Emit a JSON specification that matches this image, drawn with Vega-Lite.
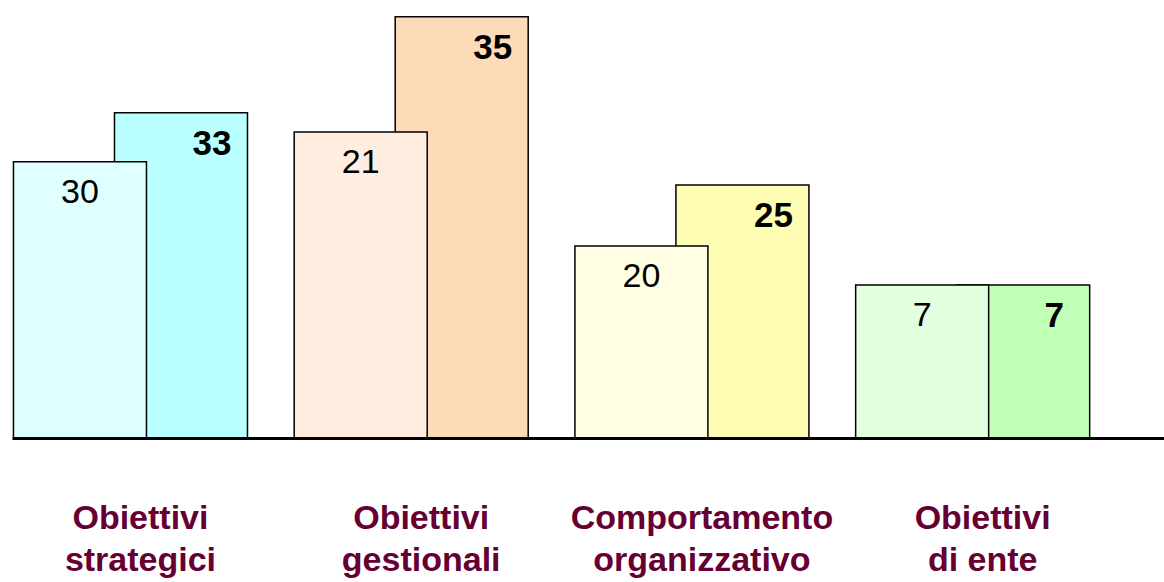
{
  "$schema": "https://vega.github.io/schema/vega-lite/v6.json",
  "width": 1152,
  "height": 438,
  "autosize": {"type": "none"},
  "padding": {"left": 12, "top": 0, "right": 0, "bottom": 144},
  "background": "white",
  "config": {"view": {"stroke": null}, "font": "Liberation Sans"},
  "data": {
    "values": [
      {"gruppo": "Obiettivi strategici", "serie": "A", "valore": 30, "altezza": 22.95},
      {"gruppo": "Obiettivi strategici", "serie": "B", "valore": 33, "altezza": 27.02},
      {"gruppo": "Obiettivi gestionali", "serie": "A", "valore": 21, "altezza": 25.44},
      {"gruppo": "Obiettivi gestionali", "serie": "B", "valore": 35, "altezza": 35.0},
      {"gruppo": "Comportamento organizzativo", "serie": "A", "valore": 20, "altezza": 15.96},
      {"gruppo": "Comportamento organizzativo", "serie": "B", "valore": 25, "altezza": 21.03},
      {"gruppo": "Obiettivi di ente", "serie": "A", "valore": 7, "altezza": 12.72},
      {"gruppo": "Obiettivi di ente", "serie": "B", "valore": 7, "altezza": 12.72}
    ]
  },
  "encoding": {
    "x": {
      "field": "gruppo",
      "type": "nominal",
      "sort": null,
      "scale": {
        "domain": ["Obiettivi strategici", "Obiettivi gestionali", "Comportamento organizzativo", "Obiettivi di ente"],
        "paddingInner": 0.2804,
        "paddingOuter": 0.192,
        "align": 0.162
      },
      "axis": {
        "title": null,
        "domainColor": "black",
        "domainWidth": 3,
        "ticks": false,
        "labelAngle": 0,
        "labelFont": "Liberation Sans",
        "labelFontSize": 34,
        "labelFontWeight": "bold",
        "labelColor": "#660033",
        "labelPadding": 63,
        "labelLineHeight": 42,
        "labelLimit": 400,
        "labelOverlap": false,
        "labelBound": false,
        "labelOffset": 10,
        "zindex": 1,
        "labelExpr": "datum.label == 'Obiettivi di ente' ? ['Obiettivi', 'di ente'] : split(datum.label, ' ')"
      }
    },
    "xOffset": {
      "field": "serie",
      "type": "nominal",
      "scale": {"domain": ["A", "B"], "paddingInner": 0, "paddingOuter": 0}
    },
    "y": {
      "field": "altezza",
      "type": "quantitative",
      "scale": {"domain": [0, 36.4], "nice": false, "zero": true},
      "axis": null
    }
  },
  "layer": [
    {
      "transform": [{"filter": "datum.serie === 'B'"}],
      "mark": {"type": "bar", "width": 133, "stroke": "black", "strokeWidth": 1.5},
      "encoding": {
        "fill": {
          "field": "gruppo",
          "type": "nominal",
          "scale": {
            "domain": ["Obiettivi strategici", "Obiettivi gestionali", "Comportamento organizzativo", "Obiettivi di ente"],
            "range": ["#B9FFFF", "#FDDAB8", "#FFFDB3", "#C0FFB6"]
          },
          "legend": null
        }
      }
    },
    {
      "transform": [{"filter": "datum.serie === 'A'"}],
      "mark": {"type": "bar", "width": 133, "stroke": "black", "strokeWidth": 1.5},
      "encoding": {
        "fill": {
          "field": "gruppo",
          "type": "nominal",
          "scale": {
            "domain": ["Obiettivi strategici", "Obiettivi gestionali", "Comportamento organizzativo", "Obiettivi di ente"],
            "range": ["#E0FFFF", "#FFEEE0", "#FFFDE2", "#E2FFE0"]
          },
          "legend": null
        }
      }
    },
    {
      "transform": [{"filter": "datum.serie === 'A'"}],
      "mark": {"type": "text", "fontSize": 34, "baseline": "top", "align": "center", "dy": 14, "color": "black", "font": "Liberation Sans"},
      "encoding": {"text": {"field": "valore", "type": "quantitative"}}
    },
    {
      "transform": [{"filter": "datum.serie === 'B'"}],
      "mark": {"type": "text", "fontSize": 35, "fontWeight": "bold", "baseline": "top", "align": "center", "dy": 14, "dx": 31, "color": "black", "font": "Liberation Sans"},
      "encoding": {"text": {"field": "valore", "type": "quantitative"}}
    }
  ],
  "resolve": {"scale": {"fill": "independent"}}
}
